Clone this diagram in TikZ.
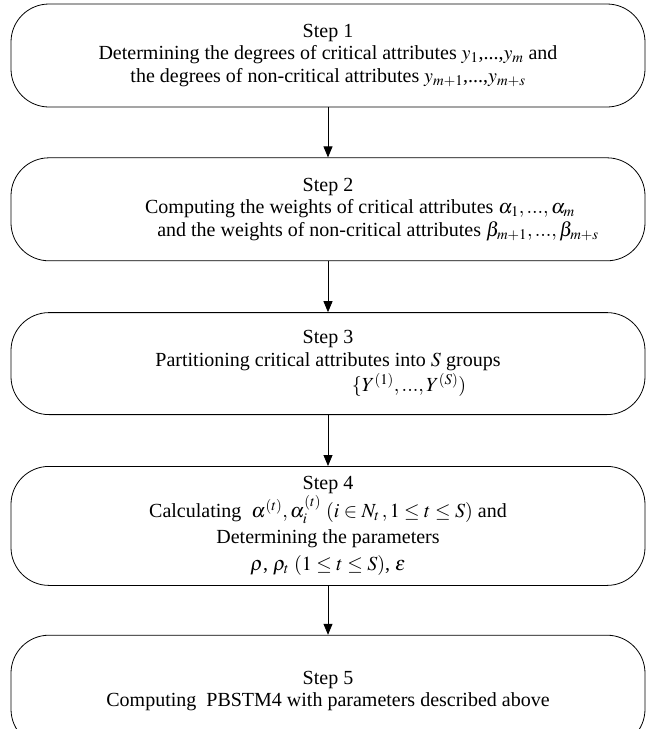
\documentclass[tikz,border=0pt]{standalone}
\usepackage{amsmath}
\usepackage{mathptmx}
\usepackage{fontspec}
\setmainfont{Liberation Serif}
\usetikzlibrary{arrows.meta, positioning}

\begin{document}
\begin{tikzpicture}[
    x=1pt, y=-1pt,
    stepbox/.style={
        rectangle, draw, rounded corners=38pt,
        line width=0.8pt, align=center,
        minimum width=634pt, inner sep=0pt,
        font=\fontsize{20}{22.5}\selectfont
    },
    arrow/.style={-{Triangle[length=11pt, width=9pt]}, line width=0.8pt}
]

\useasboundingbox (0,0) rectangle (651,729);

%% ─── STEPS ───────────────────────────────────────────────────
\node[stepbox, minimum height=103pt] (step1) at (328,55.5) {
    Step 1 \\
    Determining the degrees of critical attributes $y_{1}$,...,$y_{m}$ and \\
    the degrees of non-critical attributes $y_{m+1}$,...,$y_{m+s}$
};

\node[stepbox, minimum height=103pt, below=50pt of step1] (step2) {
    Step 2 \\
    \hspace*{64pt}Computing the weights of critical attributes $\alpha_1,...,\alpha_m$ \\
    \hspace*{100pt}and the weights of non-critical attributes $\beta_{m+1},...,\beta_{m+s}$
};

\node[stepbox, minimum height=102pt, below=51pt of step2] (step3) {
    Step 3 \\
    Partitioning critical attributes into $S$ groups \\[2pt]
    \hspace*{162pt}$\{Y^{(1)}, ..., Y^{(S)})$
};

\node[stepbox, minimum height=119pt, below=51pt of step3] (step4) {
    Step 4 \\[1pt]
    Calculating \ $\alpha^{(t)},\alpha_i^{(t)}$ $(i\in N_t\,,1\le t\le S)$ and \\[4pt]
    Determining the parameters \\[4pt]
    $\rho$, $\rho_t$ $(1\le t\le S)$, $\varepsilon$
};

\node[stepbox, minimum height=112pt, below=49pt of step4] (step5) {
    Step 5 \\
    Computing \ PBSTM4 with parameters described above
};

%% ─── ARROWS ──────────────────────────────────────────────────
\draw[arrow] (step1) -- (step2);
\draw[arrow] (step2) -- (step3);
\draw[arrow] (step3) -- (step4);
\draw[arrow] (step4) -- (step5);

\end{tikzpicture}
\end{document}
